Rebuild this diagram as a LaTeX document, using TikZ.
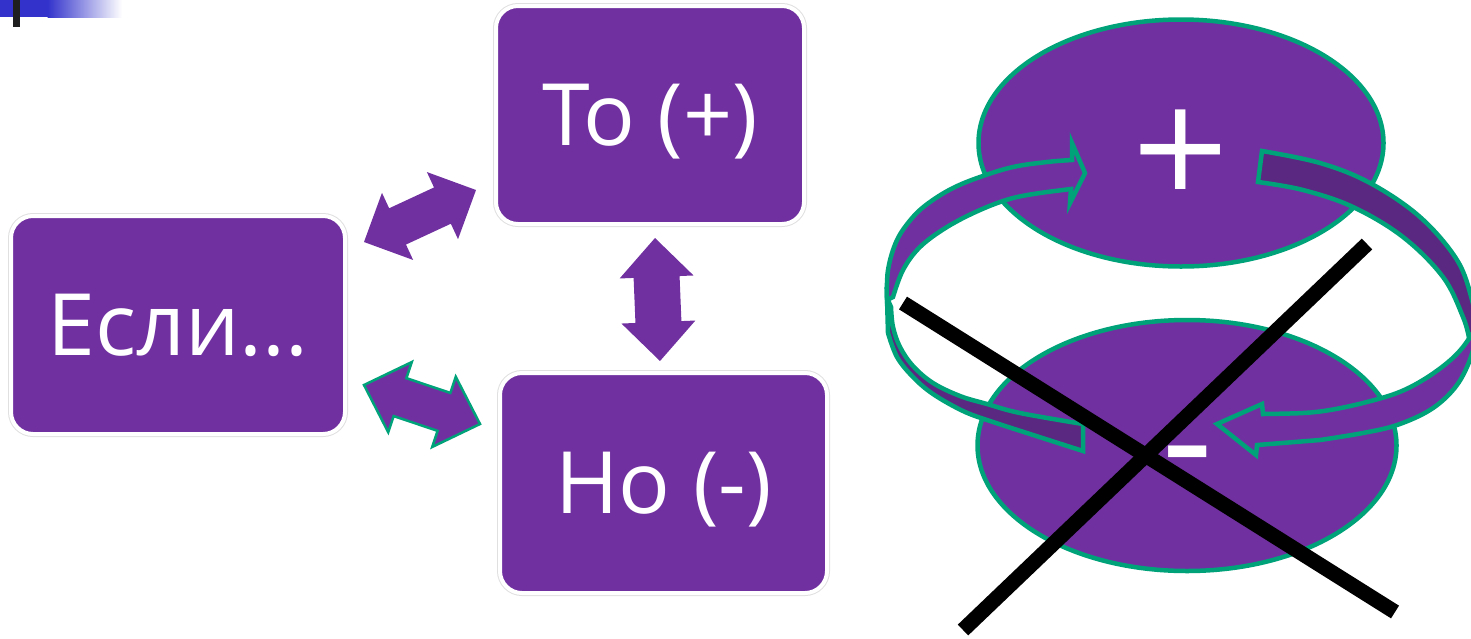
\documentclass[tikz,border=0pt]{standalone}
\usepackage{fontspec}
\newfontfamily\boxfont{Open Sans}
\newfontfamily\pmfont{DejaVu Sans}
\usetikzlibrary{calc,shapes.geometric}
\definecolor{vio}{RGB}{112,48,160}
\definecolor{viodark}{RGB}{90,40,128}
\definecolor{teal2}{RGB}{0,162,122}
\definecolor{blueb}{RGB}{51,51,204}
\tikzset{
  box/.style={rectangle, rounded corners=22pt, fill=vio, draw=white, line width=4pt,
    preaction={draw=black!12, line width=6pt}, text=white,
    font=\boxfont\fontsize{86}{86}\selectfont, inner sep=0pt,
    text height=61pt, text depth=0pt},
  barrow/.style={fill=vio, draw=none},
  barrowt/.style={fill=vio, draw=teal2, line width=2.5pt, line join=miter},
  disc/.style={ellipse, fill=vio, draw=teal2, line width=4.5pt, inner sep=0pt},
  ringlight/.style={fill=vio, draw=teal2, line width=4.5pt, line join=miter},
  ringdark/.style={fill=viodark, draw=teal2, line width=4.5pt, line join=miter},
  pm/.style={text=white, inner sep=0pt},
  xline/.style={draw=black, line width=15pt}
}
% #1 style, #2 tip A, #3 tip B, #4 head length, #5 half head width, #6 half shaft width
\newcommand\blockarrow[6]{%
  \path[#1] (#2) -- ($(#2)!#4!(#3)!#5!90:(#3)$) -- ($(#2)!#4!(#3)!#6!90:(#3)$)
   -- ($(#3)!#4!(#2)!#6!-90:(#2)$) -- ($(#3)!#4!(#2)!#5!-90:(#2)$) -- (#3)
   -- ($(#3)!#4!(#2)!#5!90:(#2)$) -- ($(#3)!#4!(#2)!#6!90:(#2)$)
   -- ($(#2)!#4!(#3)!#6!-90:(#3)$) -- ($(#2)!#4!(#3)!#5!-90:(#3)$) -- cycle;}
\begin{document}
\begin{tikzpicture}[x=1pt,y=-1pt]
\useasboundingbox (0,0) rectangle (1471,638);
\clip (0,0) rectangle (1471,638);

% corner decoration
\fill[blueb] (0,0) rectangle (48,17);
\shade[left color=blueb, right color=white] (47.5,0) rectangle (122,17);
\fill[black!88] (13,0) rectangle (20,27);

% boxes
\node[box, minimum width=334pt, minimum height=218pt] (esli) at (178,325) {Если...};
\node[box, minimum width=308pt, minimum height=218pt] (to) at (650,115) {То (+)};
\node[box, minimum width=327pt, minimum height=220pt] (no) at (663.5,483) {Но (-)};

% block arrows
\coordinate (a1) at (364,242); \coordinate (b1) at (476,190);
\coordinate (a2) at (364,385); \coordinate (b2) at (480,424);
\coordinate (a3) at (655,238); \coordinate (b3) at (660,361);
\blockarrow{barrow}{a1}{b1}{37pt}{37pt}{20pt}
\blockarrow{barrowt}{a2}{b2}{38pt}{37pt}{20pt}
\blockarrow{barrow}{a3}{b3}{39pt}{37pt}{23pt}

% discs
\node[disc, minimum width=405pt, minimum height=247pt] (top) at (1181,143) {};
\node[disc, minimum width=419pt, minimum height=251pt] (bot) at (1187,445.5) {};

% ring arrows
\filldraw[ringdark] plot[smooth,tension=0.6] coordinates {(1083,424) (1020,413) (987,404) (960,396) (933,383) (913,366) (900,347) (893,327) (891,307)}
  -- (887,298) -- plot[smooth,tension=0.6] coordinates {(888,333) (897,357) (913,377) (933,394) (963,411) (990,421) (1030,434) (1083,451)} -- cycle;
\filldraw[ringlight] plot[smooth,tension=0.6] coordinates {(887,300) (888,270) (897,240) (913,217) (930,202) (953,188) (980,177) (1013,167) (1047,162) (1072,160)}
  -- (1072,143) -- (1085,173) -- (1070,203) -- (1071,189)
  -- plot[smooth,tension=0.6] coordinates {(1047,192) (1013,198) (980,210) (947,227) (920,247) (903,270) (893,297)} -- cycle;
\filldraw[ringdark] plot[smooth,tension=0.6] coordinates {(1262,151) (1320,163) (1370,183) (1420,217) (1457,260) (1472,300) (1477,330)}
  -- plot[smooth,tension=0.6] coordinates {(1469,338) (1463,317) (1443,277) (1403,237) (1353,207) (1303,190) (1258,182)} -- cycle;
\filldraw[ringlight] plot[smooth,tension=0.6] coordinates {(1477,326) (1463,347) (1447,363) (1423,380) (1397,393) (1363,403) (1330,410) (1303,413) (1263,414)}
  -- (1262,404) -- (1217,424) -- (1256,455) -- (1257,445)
  -- plot[smooth,tension=0.6] coordinates {(1320,440) (1363,433) (1397,425) (1430,410) (1453,390) (1467,367) (1478,335)} -- cycle;

% signs
\node[pm, font=\pmfont\fontsize{127}{127}\selectfont] (plus) at (1180.5,150) {+};
\node[pm, anchor=base, font=\pmfont\fontsize{145}{145}\selectfont] (minus) at (1188,491) {-};

% cross
\coordinate (x1a) at (903,303); \coordinate (x1b) at (1395,612);
\coordinate (x2a) at (1367,244); \coordinate (x2b) at (963,630);
\draw[xline] (x1a) -- (x1b);
\draw[xline] (x2a) -- (x2b);
\end{tikzpicture}
\end{document}
